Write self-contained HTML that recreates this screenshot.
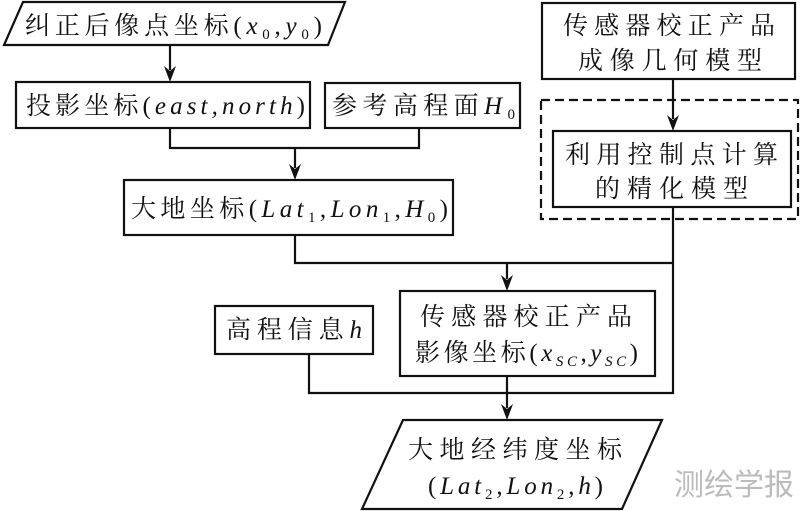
<!DOCTYPE html>
<html><head><meta charset="utf-8"><style>
html,body{margin:0;padding:0;background:#fff;}
svg{display:block;}
text{font-family:"Liberation Serif","Noto Serif CJK SC",serif;font-size:25px;fill:#111;}
.i{font-style:italic;}
.s{font-size:15px;}
</style></head><body>
<svg width="800" height="511" viewBox="0 0 800 511" xmlns="http://www.w3.org/2000/svg">
<g stroke="#111" stroke-width="2.2" fill="none">
<polygon points="23,2 345,2 328,45 4,45" fill="#fff"/>
<rect x="16" y="82" width="294" height="46"/>
<rect x="325" y="83" width="195" height="45"/>
<rect x="124" y="180" width="329" height="55"/>
<rect x="542" y="3" width="253" height="76"/>
<rect x="541" y="100" width="257" height="119" stroke-dasharray="9,5"/>
<rect x="553" y="131" width="238" height="76"/>
<rect x="400" y="291" width="255" height="85"/>
<rect x="215" y="306" width="158" height="48"/>
<polygon points="403,420 662,420 622,509 362,509" fill="#fff"/>
<polyline points="170,128 170,148 419,148 419,128"/>
<polyline points="295,235 295,263 673,263"/>
<polyline points="673,207 673,393 309,393 309,354"/>
</g>
<g fill="#111">
<line x1="170" y1="45" x2="170" y2="70" stroke="#111" stroke-width="2.2"/><path d="M164,66 L170,82 L176,66 L170,71 Z"/>
<line x1="295" y1="148" x2="295" y2="168" stroke="#111" stroke-width="2.2"/><path d="M289,164 L295,180 L301,164 L295,169 Z"/>
<line x1="673" y1="79" x2="673" y2="119" stroke="#111" stroke-width="2.2"/><path d="M667,115 L673,131 L679,115 L673,120 Z"/>
<line x1="507" y1="263" x2="507" y2="279" stroke="#111" stroke-width="2.2"/><path d="M501,275 L507,291 L513,275 L507,280 Z"/>
<line x1="507" y1="376" x2="507" y2="408" stroke="#111" stroke-width="2.2"/><path d="M501,404 L507,420 L513,404 L507,409 Z"/>
</g>
<text x="25" y="34" textLength="297" lengthAdjust="spacing">纠正后像点坐标(<tspan class="i">x</tspan><tspan class="s" dy="5">0</tspan><tspan dy="-5">,</tspan><tspan class="i">y</tspan><tspan class="s" dy="5">0</tspan><tspan dy="-5">)</tspan></text>
<text x="26" y="114" textLength="279" lengthAdjust="spacing">投影坐标(<tspan class="i">east,north</tspan>)</text>
<text x="332" y="114" textLength="183" lengthAdjust="spacing">参考高程面<tspan class="i">H</tspan><tspan class="s" dy="5">0</tspan></text>
<text x="131" y="217" textLength="317" lengthAdjust="spacing">大地坐标(<tspan class="i">Lat</tspan><tspan class="s" dy="5">1</tspan><tspan dy="-5">,</tspan><tspan class="i">Lon</tspan><tspan class="s" dy="5">1</tspan><tspan dy="-5">,</tspan><tspan class="i">H</tspan><tspan class="s" dy="5">0</tspan><tspan dy="-5">)</tspan></text>
<text x="563" y="34" textLength="212" lengthAdjust="spacing">传感器校正产品</text>
<text x="578" y="69" textLength="184" lengthAdjust="spacing">成像几何模型</text>
<text x="565" y="163" textLength="213" lengthAdjust="spacing">利用控制点计算</text>
<text x="595" y="197" textLength="153" lengthAdjust="spacing">的精化模型</text>
<text x="226" y="338" textLength="136" lengthAdjust="spacing">高程信息<tspan class="i">h</tspan></text>
<text x="420" y="325" textLength="212" lengthAdjust="spacing">传感器校正产品</text>
<text x="415" y="361" textLength="223" lengthAdjust="spacing">影像坐标(<tspan class="i">x</tspan><tspan class="s i" dy="5">SC</tspan><tspan dy="-5">,</tspan><tspan class="i">y</tspan><tspan class="s i" dy="5">SC</tspan><tspan dy="-5">)</tspan></text>
<text x="408" y="458" textLength="214" lengthAdjust="spacing">大地经纬度坐标</text>
<text x="428" y="494" textLength="175" lengthAdjust="spacing">(<tspan class="i">Lat</tspan><tspan class="s" dy="5">2</tspan><tspan dy="-5">,</tspan><tspan class="i">Lon</tspan><tspan class="s" dy="5">2</tspan><tspan dy="-5">,</tspan><tspan class="i">h</tspan>)</text>
<text x="674" y="495" style="font-family:'Noto Sans CJK SC',sans-serif;font-size:30px;fill:#bbb;">测绘学报</text>
</svg>
</body></html>
